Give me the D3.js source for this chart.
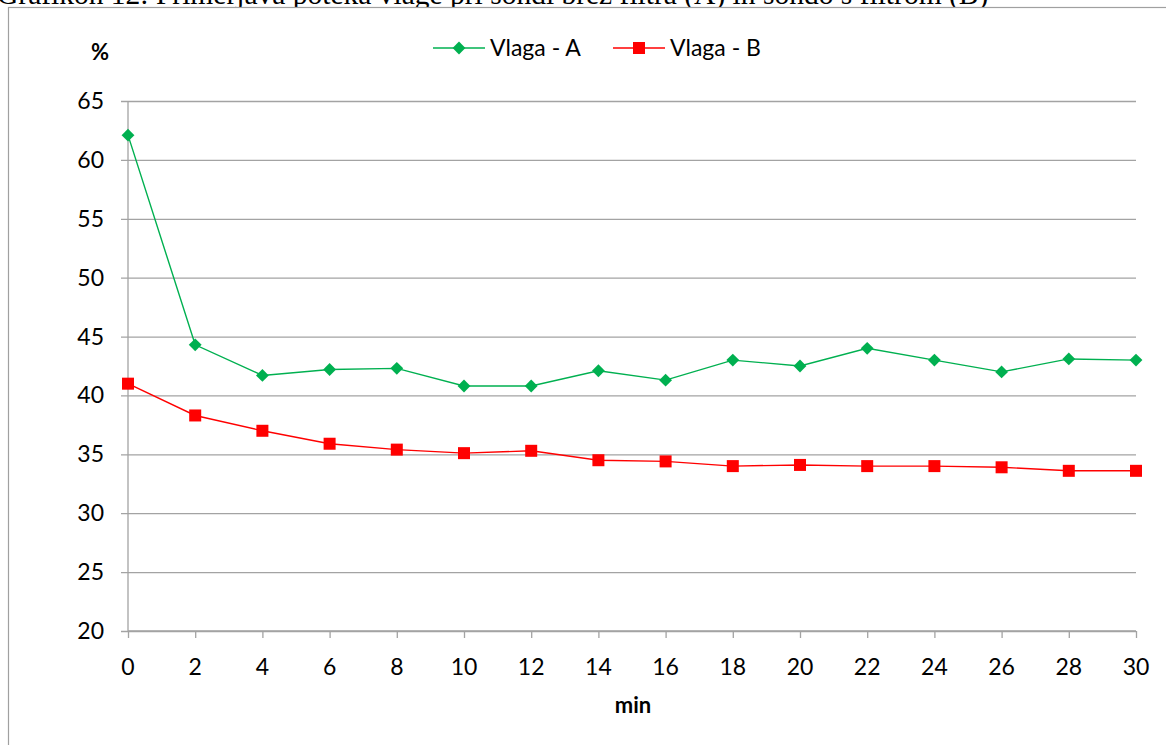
<!DOCTYPE html>
<html>
<head>
<meta charset="utf-8">
<script src="https://cdn.jsdelivr.net/npm/d3@7"></script>
<style>
  html, body { margin: 0; padding: 0; background: #fff; overflow: hidden; }
  svg { display: block; }
</style>
</head>
<body>
<svg id="chart" width="1166" height="745"></svg>
<script>
// Moisture readings over time for the two probes
const minutes = [0, 2, 4, 6, 8, 10, 12, 14, 16, 18, 20, 22, 24, 26, 28, 30];
const vlagaA = [62.1, 44.3, 41.7, 42.2, 42.3, 40.8, 40.8, 42.1, 41.3, 43.0, 42.5, 44.0, 43.0, 42.0, 43.1, 43.0];
const vlagaB = [41.0, 38.3, 37.0, 35.9, 35.4, 35.1, 35.3, 34.5, 34.4, 34.0, 34.1, 34.0, 34.0, 33.9, 33.6, 33.6];
const yTicks = [20, 25, 30, 35, 40, 45, 50, 55, 60, 65];
const seriesNames = ["Vlaga - A", "Vlaga - B"];
const titleText = "Grafikon 12: Primerjava poteka vlage pri sondi brez filtra (A) in sondo s filtrom (B)";

const svg = d3.select("#chart");
const font = "Lato, 'Open Sans', sans-serif";
const gridColor = "#a3a3a3";
const greenC = "#00b050";
const redC = "#ff0000";

// caption above the chart frame
svg.append("text")
  .attr("x", -3).attr("y", 4)
  .attr("font-family", "'Liberation Serif', 'Times New Roman', serif")
  .attr("font-size", 29.5)
  .attr("fill", "#000")
  .text(titleText);

// chart frame
svg.append("rect")
  .attr("x", 8.5).attr("y", 7.5)
  .attr("width", 1170).attr("height", 760)
  .attr("fill", "#fff")
  .attr("stroke", "#a0a0a0").attr("stroke-width", 1.2);

const x = d3.scaleLinear().domain([0, 30]).range([128, 1136]);
const y = d3.scaleLinear().domain([20, 65]).range([631, 101]);

// horizontal gridlines, extended left as tick marks
const yAxis = d3.axisLeft(y).tickValues(yTicks).tickSize(-(1136 - 121)).tickPadding(0).tickFormat("");
const gy = svg.append("g").attr("transform", "translate(121,0)").call(yAxis);
gy.select(".domain").remove();
gy.selectAll(".tick line")
  .attr("x1", 0).attr("x2", 1136 - 121)
  .attr("stroke", gridColor).attr("stroke-width", 1.3);

// y tick labels
svg.append("g").selectAll("text")
  .data(yTicks).join("text")
  .attr("x", 104).attr("y", d => y(d) + 8)
  .attr("text-anchor", "end")
  .attr("font-family", font).attr("font-size", 23)
  .attr("fill", "#000")
  .text(d => d);

// vertical axis line
svg.append("line")
  .attr("x1", x(0)).attr("x2", x(0))
  .attr("y1", y(65)).attr("y2", y(20))
  .attr("stroke", gridColor).attr("stroke-width", 1.3);

// x axis
const xAxis = d3.axisBottom(x).tickValues(minutes).tickSize(7).tickPadding(0).tickFormat("");
const gx = svg.append("g").attr("transform", `translate(0,${y(20)})`).call(xAxis);
gx.select(".domain").attr("stroke", gridColor).attr("stroke-width", 1.3).attr("d", `M${x(0)},0H${x(30)}`);
gx.selectAll(".tick line").attr("stroke", gridColor).attr("stroke-width", 1.3);

svg.append("g").selectAll("text")
  .data(minutes).join("text")
  .attr("x", d => x(d)).attr("y", 675)
  .attr("text-anchor", "middle")
  .attr("font-family", font).attr("font-size", 23)
  .attr("fill", "#000")
  .text(d => d);

// axis titles
svg.append("text")
  .attr("x", 100).attr("y", 60)
  .attr("text-anchor", "middle")
  .attr("font-family", font).attr("font-size", 22).attr("font-weight", "bold")
  .text("%");
svg.append("text")
  .attr("x", 633).attr("y", 713)
  .attr("text-anchor", "middle")
  .attr("font-family", font).attr("font-size", 22).attr("font-weight", "bold")
  .text("min");

// series lines
const line = d3.line().x((d, i) => x(minutes[i])).y(d => y(d));
svg.append("path").datum(vlagaA)
  .attr("d", line).attr("fill", "none")
  .attr("stroke", greenC).attr("stroke-width", 1.4);
svg.append("path").datum(vlagaB)
  .attr("d", line).attr("fill", "none")
  .attr("stroke", redC).attr("stroke-width", 1.4);

// markers
const diamond = d3.symbol().type(d3.symbolDiamond2).size(105);
svg.append("g").selectAll("path")
  .data(vlagaA).join("path")
  .attr("transform", (d, i) => `translate(${x(minutes[i])},${y(d)})`)
  .attr("d", diamond)
  .attr("fill", greenC);

const sq = 12;
svg.append("g").selectAll("rect")
  .data(vlagaB).join("rect")
  .attr("x", (d, i) => x(minutes[i]) - sq / 2)
  .attr("y", d => y(d) - sq / 2)
  .attr("width", sq).attr("height", sq)
  .attr("fill", redC);

// legend
const legend = svg.append("g");
const legendItems = [
  { name: seriesNames[0], color: greenC, x0: 433, kind: "diamond" },
  { name: seriesNames[1], color: redC, x0: 613, kind: "square" }
];
legendItems.forEach(item => {
  legend.append("line")
    .attr("x1", item.x0).attr("x2", item.x0 + 52)
    .attr("y1", 48).attr("y2", 48)
    .attr("stroke", item.color).attr("stroke-width", 1.4);
  if (item.kind === "diamond") {
    legend.append("path")
      .attr("transform", `translate(${item.x0 + 26},48)`)
      .attr("d", diamond).attr("fill", item.color);
  } else {
    legend.append("rect")
      .attr("x", item.x0 + 26 - sq / 2).attr("y", 48 - sq / 2)
      .attr("width", sq).attr("height", sq)
      .attr("fill", item.color);
  }
  legend.append("text")
    .attr("x", item.x0 + 57).attr("y", 56)
    .attr("font-family", font).attr("font-size", 23)
    .attr("fill", "#000")
    .text(item.name);
});
</script>
</body>
</html>
